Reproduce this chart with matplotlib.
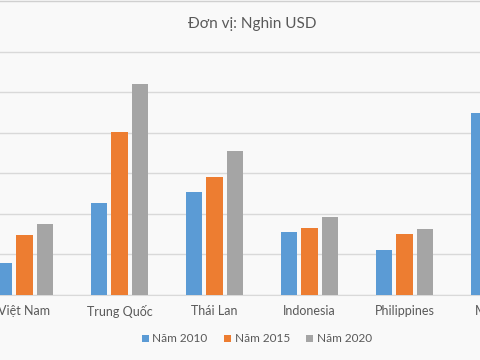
import numpy as np
from matplotlib import pyplot as plt
from matplotlib.lines import Line2D

quoc_gia = ['Việt Nam', 'Trung Quốc', 'Thái Lan', 'Indonesia', 'Philippines', 'Malaysia']
nam_2010 = [790, 2270, 2540, 1560, 1110, 4490]
nam_2015 = [1480, 4020, 2910, 1650, 1510, 5200]
nam_2020 = [1750, 5210, 3560, 1930, 1630, 5600]
nhan = ['Năm 2010', 'Năm 2015', 'Năm 2020']
mau = ['#5B9BD5', '#ED7D31', '#A5A5A5']

plt.rcParams['font.family'] = ['Lato', 'DejaVu Sans']

fig = plt.figure(figsize=(4.8, 3.6), dpi=100, facecolor='#f9f9f9')
ax = fig.add_axes([0, 1 - 295 / 360, 1, 250 / 360])
ax.set_facecolor('#f9f9f9')

x = np.arange(len(quoc_gia))
rong = 0.17
lech = 0.216
for i, (ds, ten) in enumerate(zip([nam_2010, nam_2015, nam_2020], nhan)):
    ax.bar(x + (i - 1) * lech, ds, width=rong, color=mau[i], label=ten, zorder=3)

# nhan truc x ve bang text de nhan cuoi (bi cat) van hien mot phan
ax.set_xticks([])
for xi, ten in zip(x, quoc_gia):
    ax.annotate(ten, xy=(xi, 0), xycoords=('data', 'axes fraction'),
                xytext=(0, -7.5), textcoords='offset points', ha='center', va='top',
                fontsize=9, color='#595959', annotation_clip=False)
ax.set_xlim(-0.258, 4.795)
ax.set_ylim(0, 6170)
ax.set_yticks(np.arange(0, 7000, 1000))
ax.yaxis.grid(True, color='#d9d9d9', linewidth=1, zorder=0)
ax.tick_params(axis='y', left=False, labelleft=False)
for s in ['top', 'left', 'right']:
    ax.spines[s].set_visible(False)
ax.spines['bottom'].set_color('#d9d9d9')

fig.text(0.525, 1 - 24 / 360, 'Đơn vị: Nghìn USD', ha='center', va='center',
         fontsize=11, color='#595959')

fig.legend(loc='center', bbox_to_anchor=(0.535, 1 - 339 / 360), ncol=3, frameon=False,
           fontsize=8.5, labelcolor='#595959', handlelength=0.6, handleheight=0.6,
           handletextpad=0.3, columnspacing=1.4)

fig.add_artist(Line2D([0, 1], [0.998, 0.998], color='#d0d0d0', linewidth=1,
                      transform=fig.transFigure))

fig.savefig('out.png', dpi=100, facecolor=fig.get_facecolor())
